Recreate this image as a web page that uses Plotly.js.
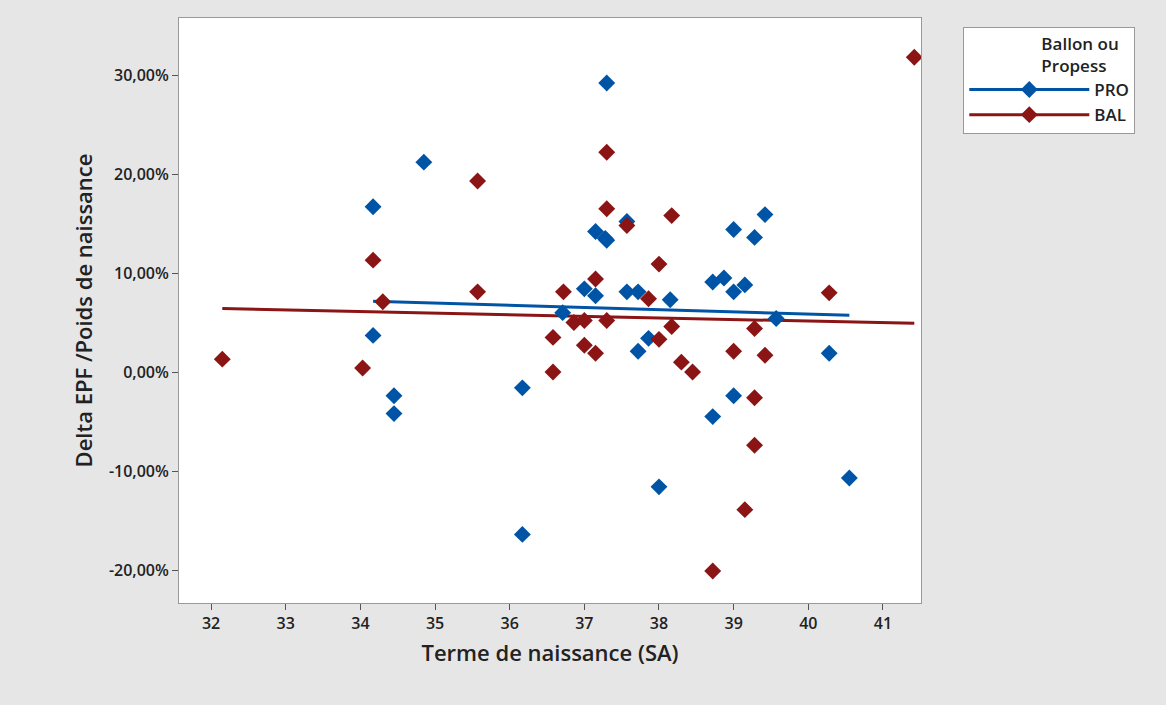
<!DOCTYPE html>
<html>
<head>
<meta charset="utf-8">
<script src="https://cdn.plot.ly/plotly-3.0.1.min.js"></script>
<style>body{margin:0;background:#e6e6e6}</style>
</head>
<body>
<div id="chart" style="width:1166px;height:705px"></div>
<script>
// PRO (Propess) - terme (SA) / delta EPF (%)
const proTerme = [34.17, 34.17, 34.45, 34.45, 34.85, 36.17, 36.17, 36.71, 37.0, 37.15, 37.15, 37.28, 37.3, 37.3, 37.57, 37.57, 37.72, 37.72, 37.86, 38.0, 38.15, 38.72, 38.87, 38.72, 39.0, 39.0, 39.0, 39.15, 39.28, 39.42, 39.57, 40.28, 40.55];
const proDelta = [16.7, 3.7, -2.4, -4.2, 21.2, -1.6, -16.4, 6.0, 8.4, 14.2, 7.7, 13.5, 13.3, 29.2, 15.2, 8.1, 8.1, 2.1, 3.4, -11.6, 7.3, 9.1, 9.5, -4.5, 14.4, 8.1, -2.4, 8.8, 13.6, 15.9, 5.4, 1.9, -10.7];

// BAL (Ballon)
const balTerme = [32.15, 34.03, 34.17, 34.3, 35.57, 35.57, 36.58, 36.58, 36.72, 36.86, 37.0, 37.0, 37.15, 37.15, 37.3, 37.3, 37.3, 37.57, 37.86, 38.0, 38.0, 38.17, 38.17, 38.3, 38.45, 38.72, 39.0, 39.15, 39.28, 39.28, 39.28, 39.42, 40.28, 41.42];
const balDelta = [1.3, 0.4, 11.3, 7.1, 19.3, 8.1, 3.5, 0.0, 8.1, 5.0, 5.2, 2.7, 9.4, 1.9, 22.2, 16.5, 5.2, 14.8, 7.4, 10.9, 3.3, 15.8, 4.6, 1.0, 0.0, -20.1, 2.1, -13.9, 4.4, -2.6, -7.4, 1.7, 8.0, 31.8];

const xTicks = [32, 33, 34, 35, 36, 37, 38, 39, 40, 41];
const yTicks = [-20, -10, 0, 10, 20, 30];
const yLabels = ["-20,00%", "-10,00%", "0,00%", "10,00%", "20,00%", "30,00%"];

const BLUE = "#0054a6";
const RED = "#8b1414";

// regression line over the range of each group
function fit(xs, ys) {
  const n = xs.length;
  const mx = xs.reduce((a, b) => a + b) / n;
  const my = ys.reduce((a, b) => a + b) / n;
  let sxy = 0, sxx = 0;
  for (let i = 0; i < n; i++) {
    sxy += (xs[i] - mx) * (ys[i] - my);
    sxx += (xs[i] - mx) * (xs[i] - mx);
  }
  const b = sxy / sxx;
  const x0 = Math.min(...xs), x1 = Math.max(...xs);
  return { x: [x0, x1], y: [my + b * (x0 - mx), my + b * (x1 - mx)] };
}
const proFit = fit(proTerme, proDelta);
const balFit = fit(balTerme, balDelta);

const mk = (c) => ({ symbol: "diamond", size: 13, color: c });

const data = [
  { x: proFit.x, y: proFit.y, mode: "lines", line: { color: BLUE, width: 3 }, showlegend: false, hoverinfo: "skip" },
  { x: balFit.x, y: balFit.y, mode: "lines", line: { color: RED, width: 3 }, showlegend: false, hoverinfo: "skip" },
  { x: proTerme, y: proDelta, mode: "markers", marker: mk(BLUE), showlegend: false },
  { x: balTerme, y: balDelta, mode: "markers", marker: mk(RED), showlegend: false },
  // legend entries
  { x: [null], y: [null], name: "PRO", mode: "lines+markers", line: { color: BLUE, width: 3 }, marker: mk(BLUE) },
  { x: [null], y: [null], name: "BAL", mode: "lines+markers", line: { color: RED, width: 3 }, marker: mk(RED) },
];

const axisFont = { family: "Open Sans, sans-serif", size: 16, weight: 600, color: "#222" };

const layout = {
  width: 1166,
  height: 705,
  margin: { l: 179, r: 245, t: 18, b: 102 },
  paper_bgcolor: "#e6e6e6",
  plot_bgcolor: "#ffffff",
  font: { family: "Open Sans, sans-serif", color: "#222" },
  xaxis: {
    range: [31.57, 41.51],
    tickvals: xTicks,
    ticks: "outside",
    ticklen: 6,
    tickcolor: "#555",
    tickfont: axisFont,
    showgrid: false,
    zeroline: false,
    showline: true,
    linecolor: "#999",
    mirror: true,
    title: { text: "Terme de naissance (SA)", font: { size: 22, weight: 600, color: "#222" }, standoff: 12 },
  },
  yaxis: {
    range: [-23.33, 35.76],
    tickvals: yTicks,
    ticktext: yLabels,
    ticks: "outside",
    ticklen: 6,
    tickcolor: "#555",
    tickfont: axisFont,
    showgrid: false,
    zeroline: false,
    showline: true,
    linecolor: "#999",
    mirror: true,
    title: { text: "Delta EPF /Poids de naissance", font: { size: 22, weight: 600, color: "#222" }, standoff: 10 },
  },
  legend: {
    x: 1.057, y: 0.985, xanchor: "left", yanchor: "top",
    bgcolor: "#ffffff",
    bordercolor: "#999",
    borderwidth: 1,
    font: { size: 17, weight: 600, color: "#222" },
    title: { text: "                 Ballon ou<br>                 Propess", font: { size: 17, weight: 600 } },
    itemwidth: 120,
    tracegroupgap: 6,
  },
};

Plotly.newPlot("chart", data, layout, { displayModeBar: false });
</script>
</body>
</html>
